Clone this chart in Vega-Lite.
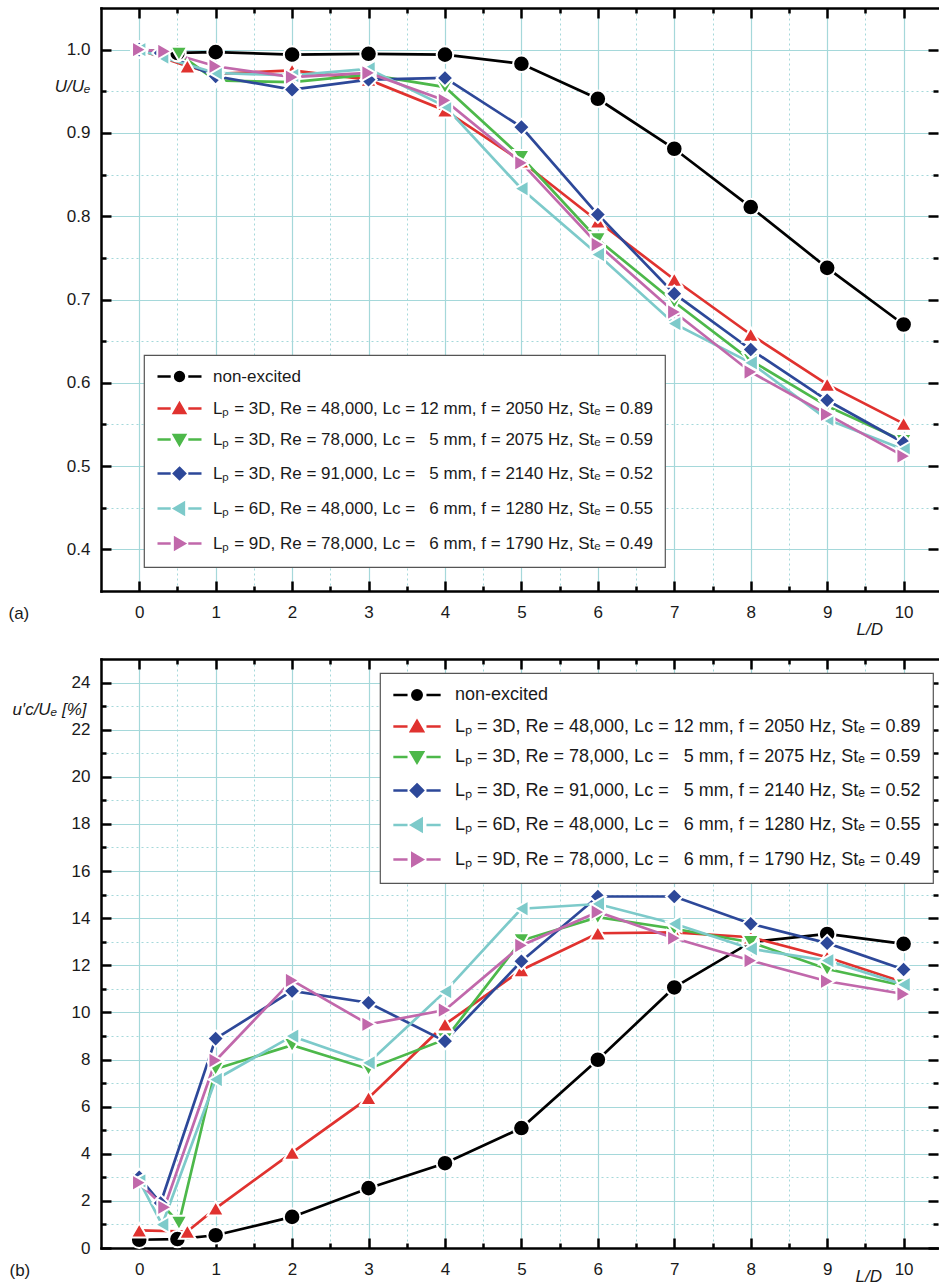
{
  "$schema": "https://vega.github.io/schema/vega-lite/v6.json",
  "autosize": {"type": "pad"},
  "padding": {"left": 8, "top": 6, "right": 0, "bottom": 0},
  "background": "white",
  "bounds": "flush",
  "spacing": 68,
  "config": {
    "view": {"stroke": null},
    "font": "Liberation Sans",
    "axis": {
      "labelFont": "Liberation Sans", "titleFont": "Liberation Sans",
      "labelFontSize": 17, "titleFontSize": 17, "titleFontWeight": "normal",
      "labelColor": "#1a1a1a", "titleColor": "#1a1a1a",
      "tickColor": "#000000", "tickWidth": 2.5,
      "domainColor": "#000000", "domainWidth": 2.5,
      "gridColor": "#a5d8da", "labelFlush": false, "labelOverlap": false
    },
    "legend": {
      "labelFont": "Liberation Sans", "labelColor": "#1a1a1a", "labelLimit": 700,
      "strokeColor": "#555555", "fillColor": "white", "symbolStrokeWidth": 2.5, "strokeWidth": 1.2
    }
  },
  "datasets": {
    "top": [
      {"s":"non-excited","x":0,"y":1.0},{"s":"non-excited","x":0.5,"y":0.996},{"s":"non-excited","x":1,"y":0.997},{"s":"non-excited","x":2,"y":0.994},{"s":"non-excited","x":3,"y":0.995},{"s":"non-excited","x":4,"y":0.994},{"s":"non-excited","x":5,"y":0.983},{"s":"non-excited","x":6,"y":0.941},{"s":"non-excited","x":7,"y":0.881},{"s":"non-excited","x":8,"y":0.811},{"s":"non-excited","x":9,"y":0.738},{"s":"non-excited","x":10,"y":0.670},
      {"s":"L\u209a = 3D, Re = 48,000, Lc = 12 mm, f = 2050 Hz, St\u2091 = 0.89","x":0,"y":1.0},{"s":"L\u209a = 3D, Re = 48,000, Lc = 12 mm, f = 2050 Hz, St\u2091 = 0.89","x":0.63,"y":0.980},{"s":"L\u209a = 3D, Re = 48,000, Lc = 12 mm, f = 2050 Hz, St\u2091 = 0.89","x":1,"y":0.971},{"s":"L\u209a = 3D, Re = 48,000, Lc = 12 mm, f = 2050 Hz, St\u2091 = 0.89","x":2,"y":0.975},{"s":"L\u209a = 3D, Re = 48,000, Lc = 12 mm, f = 2050 Hz, St\u2091 = 0.89","x":3,"y":0.964},{"s":"L\u209a = 3D, Re = 48,000, Lc = 12 mm, f = 2050 Hz, St\u2091 = 0.89","x":4,"y":0.927},{"s":"L\u209a = 3D, Re = 48,000, Lc = 12 mm, f = 2050 Hz, St\u2091 = 0.89","x":5,"y":0.866},{"s":"L\u209a = 3D, Re = 48,000, Lc = 12 mm, f = 2050 Hz, St\u2091 = 0.89","x":6,"y":0.794},{"s":"L\u209a = 3D, Re = 48,000, Lc = 12 mm, f = 2050 Hz, St\u2091 = 0.89","x":7,"y":0.724},{"s":"L\u209a = 3D, Re = 48,000, Lc = 12 mm, f = 2050 Hz, St\u2091 = 0.89","x":8,"y":0.658},{"s":"L\u209a = 3D, Re = 48,000, Lc = 12 mm, f = 2050 Hz, St\u2091 = 0.89","x":9,"y":0.598},{"s":"L\u209a = 3D, Re = 48,000, Lc = 12 mm, f = 2050 Hz, St\u2091 = 0.89","x":10,"y":0.551},
      {"s":"L\u209a = 3D, Re = 78,000, Lc = \u20075 mm, f = 2075 Hz, St\u2091 = 0.59","x":0,"y":1.0},{"s":"L\u209a = 3D, Re = 78,000, Lc = \u20075 mm, f = 2075 Hz, St\u2091 = 0.59","x":0.52,"y":0.995},{"s":"L\u209a = 3D, Re = 78,000, Lc = \u20075 mm, f = 2075 Hz, St\u2091 = 0.59","x":1,"y":0.963},{"s":"L\u209a = 3D, Re = 78,000, Lc = \u20075 mm, f = 2075 Hz, St\u2091 = 0.59","x":2,"y":0.961},{"s":"L\u209a = 3D, Re = 78,000, Lc = \u20075 mm, f = 2075 Hz, St\u2091 = 0.59","x":3,"y":0.970},{"s":"L\u209a = 3D, Re = 78,000, Lc = \u20075 mm, f = 2075 Hz, St\u2091 = 0.59","x":4,"y":0.955},{"s":"L\u209a = 3D, Re = 78,000, Lc = \u20075 mm, f = 2075 Hz, St\u2091 = 0.59","x":5,"y":0.871},{"s":"L\u209a = 3D, Re = 78,000, Lc = \u20075 mm, f = 2075 Hz, St\u2091 = 0.59","x":6,"y":0.772},{"s":"L\u209a = 3D, Re = 78,000, Lc = \u20075 mm, f = 2075 Hz, St\u2091 = 0.59","x":7,"y":0.697},{"s":"L\u209a = 3D, Re = 78,000, Lc = \u20075 mm, f = 2075 Hz, St\u2091 = 0.59","x":8,"y":0.627},{"s":"L\u209a = 3D, Re = 78,000, Lc = \u20075 mm, f = 2075 Hz, St\u2091 = 0.59","x":9,"y":0.572},{"s":"L\u209a = 3D, Re = 78,000, Lc = \u20075 mm, f = 2075 Hz, St\u2091 = 0.59","x":10,"y":0.530},
      {"s":"L\u209a = 3D, Re = 91,000, Lc = \u20075 mm, f = 2140 Hz, St\u2091 = 0.52","x":0,"y":1.0},{"s":"L\u209a = 3D, Re = 91,000, Lc = \u20075 mm, f = 2140 Hz, St\u2091 = 0.52","x":0.28,"y":0.996},{"s":"L\u209a = 3D, Re = 91,000, Lc = \u20075 mm, f = 2140 Hz, St\u2091 = 0.52","x":1,"y":0.968},{"s":"L\u209a = 3D, Re = 91,000, Lc = \u20075 mm, f = 2140 Hz, St\u2091 = 0.52","x":2,"y":0.952},{"s":"L\u209a = 3D, Re = 91,000, Lc = \u20075 mm, f = 2140 Hz, St\u2091 = 0.52","x":3,"y":0.964},{"s":"L\u209a = 3D, Re = 91,000, Lc = \u20075 mm, f = 2140 Hz, St\u2091 = 0.52","x":4,"y":0.966},{"s":"L\u209a = 3D, Re = 91,000, Lc = \u20075 mm, f = 2140 Hz, St\u2091 = 0.52","x":5,"y":0.907},{"s":"L\u209a = 3D, Re = 91,000, Lc = \u20075 mm, f = 2140 Hz, St\u2091 = 0.52","x":6,"y":0.802},{"s":"L\u209a = 3D, Re = 91,000, Lc = \u20075 mm, f = 2140 Hz, St\u2091 = 0.52","x":7,"y":0.707},{"s":"L\u209a = 3D, Re = 91,000, Lc = \u20075 mm, f = 2140 Hz, St\u2091 = 0.52","x":8,"y":0.640},{"s":"L\u209a = 3D, Re = 91,000, Lc = \u20075 mm, f = 2140 Hz, St\u2091 = 0.52","x":9,"y":0.579},{"s":"L\u209a = 3D, Re = 91,000, Lc = \u20075 mm, f = 2140 Hz, St\u2091 = 0.52","x":10,"y":0.528},
      {"s":"L\u209a = 6D, Re = 48,000, Lc = \u20076 mm, f = 1280 Hz, St\u2091 = 0.55","x":0,"y":1.0},{"s":"L\u209a = 6D, Re = 48,000, Lc = \u20076 mm, f = 1280 Hz, St\u2091 = 0.55","x":0.3,"y":0.991},{"s":"L\u209a = 6D, Re = 48,000, Lc = \u20076 mm, f = 1280 Hz, St\u2091 = 0.55","x":1,"y":0.972},{"s":"L\u209a = 6D, Re = 48,000, Lc = \u20076 mm, f = 1280 Hz, St\u2091 = 0.55","x":2,"y":0.969},{"s":"L\u209a = 6D, Re = 48,000, Lc = \u20076 mm, f = 1280 Hz, St\u2091 = 0.55","x":3,"y":0.977},{"s":"L\u209a = 6D, Re = 48,000, Lc = \u20076 mm, f = 1280 Hz, St\u2091 = 0.55","x":4,"y":0.932},{"s":"L\u209a = 6D, Re = 48,000, Lc = \u20076 mm, f = 1280 Hz, St\u2091 = 0.55","x":5,"y":0.833},{"s":"L\u209a = 6D, Re = 48,000, Lc = \u20076 mm, f = 1280 Hz, St\u2091 = 0.55","x":6,"y":0.754},{"s":"L\u209a = 6D, Re = 48,000, Lc = \u20076 mm, f = 1280 Hz, St\u2091 = 0.55","x":7,"y":0.671},{"s":"L\u209a = 6D, Re = 48,000, Lc = \u20076 mm, f = 1280 Hz, St\u2091 = 0.55","x":8,"y":0.624},{"s":"L\u209a = 6D, Re = 48,000, Lc = \u20076 mm, f = 1280 Hz, St\u2091 = 0.55","x":9,"y":0.556},{"s":"L\u209a = 6D, Re = 48,000, Lc = \u20076 mm, f = 1280 Hz, St\u2091 = 0.55","x":10,"y":0.520},
      {"s":"L\u209a = 9D, Re = 78,000, Lc = \u20076 mm, f = 1790 Hz, St\u2091 = 0.49","x":0,"y":1.0},{"s":"L\u209a = 9D, Re = 78,000, Lc = \u20076 mm, f = 1790 Hz, St\u2091 = 0.49","x":0.33,"y":0.998},{"s":"L\u209a = 9D, Re = 78,000, Lc = \u20076 mm, f = 1790 Hz, St\u2091 = 0.49","x":1,"y":0.980},{"s":"L\u209a = 9D, Re = 78,000, Lc = \u20076 mm, f = 1790 Hz, St\u2091 = 0.49","x":2,"y":0.967},{"s":"L\u209a = 9D, Re = 78,000, Lc = \u20076 mm, f = 1790 Hz, St\u2091 = 0.49","x":3,"y":0.972},{"s":"L\u209a = 9D, Re = 78,000, Lc = \u20076 mm, f = 1790 Hz, St\u2091 = 0.49","x":4,"y":0.939},{"s":"L\u209a = 9D, Re = 78,000, Lc = \u20076 mm, f = 1790 Hz, St\u2091 = 0.49","x":5,"y":0.864},{"s":"L\u209a = 9D, Re = 78,000, Lc = \u20076 mm, f = 1790 Hz, St\u2091 = 0.49","x":6,"y":0.766},{"s":"L\u209a = 9D, Re = 78,000, Lc = \u20076 mm, f = 1790 Hz, St\u2091 = 0.49","x":7,"y":0.685},{"s":"L\u209a = 9D, Re = 78,000, Lc = \u20076 mm, f = 1790 Hz, St\u2091 = 0.49","x":8,"y":0.613},{"s":"L\u209a = 9D, Re = 78,000, Lc = \u20076 mm, f = 1790 Hz, St\u2091 = 0.49","x":9,"y":0.562},{"s":"L\u209a = 9D, Re = 78,000, Lc = \u20076 mm, f = 1790 Hz, St\u2091 = 0.49","x":10,"y":0.512}
    ],
    "bottom": [
      {"s":"non-excited","x":0,"y":0.35},{"s":"non-excited","x":0.5,"y":0.38},{"s":"non-excited","x":1,"y":0.54},{"s":"non-excited","x":2,"y":1.32},{"s":"non-excited","x":3,"y":2.54},{"s":"non-excited","x":4,"y":3.6},{"s":"non-excited","x":5,"y":5.09},{"s":"non-excited","x":6,"y":7.99},{"s":"non-excited","x":7,"y":11.06},{"s":"non-excited","x":8,"y":12.98},{"s":"non-excited","x":9,"y":13.33},{"s":"non-excited","x":10,"y":12.91},
      {"s":"L\u209a = 3D, Re = 48,000, Lc = 12 mm, f = 2050 Hz, St\u2091 = 0.89","x":0,"y":0.75},{"s":"L\u209a = 3D, Re = 48,000, Lc = 12 mm, f = 2050 Hz, St\u2091 = 0.89","x":0.63,"y":0.7},{"s":"L\u209a = 3D, Re = 48,000, Lc = 12 mm, f = 2050 Hz, St\u2091 = 0.89","x":1,"y":1.68},{"s":"L\u209a = 3D, Re = 48,000, Lc = 12 mm, f = 2050 Hz, St\u2091 = 0.89","x":2,"y":4.05},{"s":"L\u209a = 3D, Re = 48,000, Lc = 12 mm, f = 2050 Hz, St\u2091 = 0.89","x":3,"y":6.37},{"s":"L\u209a = 3D, Re = 48,000, Lc = 12 mm, f = 2050 Hz, St\u2091 = 0.89","x":4,"y":9.49},{"s":"L\u209a = 3D, Re = 48,000, Lc = 12 mm, f = 2050 Hz, St\u2091 = 0.89","x":5,"y":11.8},{"s":"L\u209a = 3D, Re = 48,000, Lc = 12 mm, f = 2050 Hz, St\u2091 = 0.89","x":6,"y":13.36},{"s":"L\u209a = 3D, Re = 48,000, Lc = 12 mm, f = 2050 Hz, St\u2091 = 0.89","x":7,"y":13.4},{"s":"L\u209a = 3D, Re = 48,000, Lc = 12 mm, f = 2050 Hz, St\u2091 = 0.89","x":8,"y":13.19},{"s":"L\u209a = 3D, Re = 48,000, Lc = 12 mm, f = 2050 Hz, St\u2091 = 0.89","x":9,"y":12.34},{"s":"L\u209a = 3D, Re = 48,000, Lc = 12 mm, f = 2050 Hz, St\u2091 = 0.89","x":10,"y":11.28},
      {"s":"L\u209a = 3D, Re = 78,000, Lc = \u20075 mm, f = 2075 Hz, St\u2091 = 0.59","x":0,"y":2.9},{"s":"L\u209a = 3D, Re = 78,000, Lc = \u20075 mm, f = 2075 Hz, St\u2091 = 0.59","x":0.52,"y":1.06},{"s":"L\u209a = 3D, Re = 78,000, Lc = \u20075 mm, f = 2075 Hz, St\u2091 = 0.59","x":1,"y":7.6},{"s":"L\u209a = 3D, Re = 78,000, Lc = \u20075 mm, f = 2075 Hz, St\u2091 = 0.59","x":2,"y":8.61},{"s":"L\u209a = 3D, Re = 78,000, Lc = \u20075 mm, f = 2075 Hz, St\u2091 = 0.59","x":3,"y":7.6},{"s":"L\u209a = 3D, Re = 78,000, Lc = \u20075 mm, f = 2075 Hz, St\u2091 = 0.59","x":4,"y":8.85},{"s":"L\u209a = 3D, Re = 78,000, Lc = \u20075 mm, f = 2075 Hz, St\u2091 = 0.59","x":5,"y":13.05},{"s":"L\u209a = 3D, Re = 78,000, Lc = \u20075 mm, f = 2075 Hz, St\u2091 = 0.59","x":6,"y":14.04},{"s":"L\u209a = 3D, Re = 78,000, Lc = \u20075 mm, f = 2075 Hz, St\u2091 = 0.59","x":7,"y":13.55},{"s":"L\u209a = 3D, Re = 78,000, Lc = \u20075 mm, f = 2075 Hz, St\u2091 = 0.59","x":8,"y":12.98},{"s":"L\u209a = 3D, Re = 78,000, Lc = \u20075 mm, f = 2075 Hz, St\u2091 = 0.59","x":9,"y":11.84},{"s":"L\u209a = 3D, Re = 78,000, Lc = \u20075 mm, f = 2075 Hz, St\u2091 = 0.59","x":10,"y":11.13},
      {"s":"L\u209a = 3D, Re = 91,000, Lc = \u20075 mm, f = 2140 Hz, St\u2091 = 0.52","x":0,"y":3.0},{"s":"L\u209a = 3D, Re = 91,000, Lc = \u20075 mm, f = 2140 Hz, St\u2091 = 0.52","x":0.28,"y":1.91},{"s":"L\u209a = 3D, Re = 91,000, Lc = \u20075 mm, f = 2140 Hz, St\u2091 = 0.52","x":1,"y":8.89},{"s":"L\u209a = 3D, Re = 91,000, Lc = \u20075 mm, f = 2140 Hz, St\u2091 = 0.52","x":2,"y":10.91},{"s":"L\u209a = 3D, Re = 91,000, Lc = \u20075 mm, f = 2140 Hz, St\u2091 = 0.52","x":3,"y":10.41},{"s":"L\u209a = 3D, Re = 91,000, Lc = \u20075 mm, f = 2140 Hz, St\u2091 = 0.52","x":4,"y":8.78},{"s":"L\u209a = 3D, Re = 91,000, Lc = \u20075 mm, f = 2140 Hz, St\u2091 = 0.52","x":5,"y":12.17},{"s":"L\u209a = 3D, Re = 91,000, Lc = \u20075 mm, f = 2140 Hz, St\u2091 = 0.52","x":6,"y":14.92},{"s":"L\u209a = 3D, Re = 91,000, Lc = \u20075 mm, f = 2140 Hz, St\u2091 = 0.52","x":7,"y":14.92},{"s":"L\u209a = 3D, Re = 91,000, Lc = \u20075 mm, f = 2140 Hz, St\u2091 = 0.52","x":8,"y":13.76},{"s":"L\u209a = 3D, Re = 91,000, Lc = \u20075 mm, f = 2140 Hz, St\u2091 = 0.52","x":9,"y":12.94},{"s":"L\u209a = 3D, Re = 91,000, Lc = \u20075 mm, f = 2140 Hz, St\u2091 = 0.52","x":10,"y":11.82},
      {"s":"L\u209a = 6D, Re = 48,000, Lc = \u20076 mm, f = 1280 Hz, St\u2091 = 0.55","x":0,"y":2.85},{"s":"L\u209a = 6D, Re = 48,000, Lc = \u20076 mm, f = 1280 Hz, St\u2091 = 0.55","x":0.3,"y":0.99},{"s":"L\u209a = 6D, Re = 48,000, Lc = \u20076 mm, f = 1280 Hz, St\u2091 = 0.55","x":1,"y":7.15},{"s":"L\u209a = 6D, Re = 48,000, Lc = \u20076 mm, f = 1280 Hz, St\u2091 = 0.55","x":2,"y":8.99},{"s":"L\u209a = 6D, Re = 48,000, Lc = \u20076 mm, f = 1280 Hz, St\u2091 = 0.55","x":3,"y":7.86},{"s":"L\u209a = 6D, Re = 48,000, Lc = \u20076 mm, f = 1280 Hz, St\u2091 = 0.55","x":4,"y":10.88},{"s":"L\u209a = 6D, Re = 48,000, Lc = \u20076 mm, f = 1280 Hz, St\u2091 = 0.55","x":5,"y":14.4},{"s":"L\u209a = 6D, Re = 48,000, Lc = \u20076 mm, f = 1280 Hz, St\u2091 = 0.55","x":6,"y":14.6},{"s":"L\u209a = 6D, Re = 48,000, Lc = \u20076 mm, f = 1280 Hz, St\u2091 = 0.55","x":7,"y":13.76},{"s":"L\u209a = 6D, Re = 48,000, Lc = \u20076 mm, f = 1280 Hz, St\u2091 = 0.55","x":8,"y":12.7},{"s":"L\u209a = 6D, Re = 48,000, Lc = \u20076 mm, f = 1280 Hz, St\u2091 = 0.55","x":9,"y":12.2},{"s":"L\u209a = 6D, Re = 48,000, Lc = \u20076 mm, f = 1280 Hz, St\u2091 = 0.55","x":10,"y":11.18},
      {"s":"L\u209a = 9D, Re = 78,000, Lc = \u20076 mm, f = 1790 Hz, St\u2091 = 0.49","x":0,"y":2.77},{"s":"L\u209a = 9D, Re = 78,000, Lc = \u20076 mm, f = 1790 Hz, St\u2091 = 0.49","x":0.33,"y":1.73},{"s":"L\u209a = 9D, Re = 78,000, Lc = \u20076 mm, f = 1790 Hz, St\u2091 = 0.49","x":1,"y":7.96},{"s":"L\u209a = 9D, Re = 78,000, Lc = \u20076 mm, f = 1790 Hz, St\u2091 = 0.49","x":2,"y":11.36},{"s":"L\u209a = 9D, Re = 78,000, Lc = \u20076 mm, f = 1790 Hz, St\u2091 = 0.49","x":3,"y":9.49},{"s":"L\u209a = 9D, Re = 78,000, Lc = \u20076 mm, f = 1790 Hz, St\u2091 = 0.49","x":4,"y":10.1},{"s":"L\u209a = 9D, Re = 78,000, Lc = \u20076 mm, f = 1790 Hz, St\u2091 = 0.49","x":5,"y":12.84},{"s":"L\u209a = 9D, Re = 78,000, Lc = \u20076 mm, f = 1790 Hz, St\u2091 = 0.49","x":6,"y":14.26},{"s":"L\u209a = 9D, Re = 78,000, Lc = \u20076 mm, f = 1790 Hz, St\u2091 = 0.49","x":7,"y":13.15},{"s":"L\u209a = 9D, Re = 78,000, Lc = \u20076 mm, f = 1790 Hz, St\u2091 = 0.49","x":8,"y":12.2},{"s":"L\u209a = 9D, Re = 78,000, Lc = \u20076 mm, f = 1790 Hz, St\u2091 = 0.49","x":9,"y":11.32},{"s":"L\u209a = 9D, Re = 78,000, Lc = \u20076 mm, f = 1790 Hz, St\u2091 = 0.49","x":10,"y":10.78}
    ]
  },
  "vconcat": [
    {
      "width": 837, "height": 583,
      "data": {"name": "top"},
      "layer": [
        {
          "mark": {"type": "line", "strokeWidth": 2.7},
          "encoding": {
            "x": {"field": "x", "type": "quantitative", "scale": {"domain": [-0.5, 10.45], "nice": false, "zero": false},
              "axis": {"orient": "bottom", "values": [0,1,2,3,4,5,6,7,8,9,10], "format": "d", "grid": true, "gridWidth": 1.2, "ticks": true, "tickSize": -10, "domain": true, "domainCap": "square", "labelPadding": 23.5, "title": "L/D", "titleFontStyle": "italic", "titleX": 755, "titleY": 43, "titleAlign": "left", "titleBaseline": "alphabetic"}},
            "y": {"field": "y", "type": "quantitative", "scale": {"domain": [0.35, 1.05], "nice": false, "zero": false},
              "axis": {"orient": "left", "values": [0.4,0.5,0.6,0.7,0.8,0.9,1.0], "format": ".1f", "grid": true, "gridWidth": 1.2, "ticks": true, "tickSize": -10, "domain": true, "domainCap": "square", "labelPadding": 21, "title": "U/U\u2091", "titleFontStyle": "italic", "titleAngle": 0, "titleAlign": "right", "titleBaseline": "alphabetic", "titleX": -11, "titleY": 83}},
            "color": {"field": "s", "type": "nominal", "legend": null,
              "scale": {"domain": ["non-excited","L\u209a = 3D, Re = 48,000, Lc = 12 mm, f = 2050 Hz, St\u2091 = 0.89","L\u209a = 3D, Re = 78,000, Lc = \u20075 mm, f = 2075 Hz, St\u2091 = 0.59","L\u209a = 3D, Re = 91,000, Lc = \u20075 mm, f = 2140 Hz, St\u2091 = 0.52","L\u209a = 6D, Re = 48,000, Lc = \u20076 mm, f = 1280 Hz, St\u2091 = 0.55","L\u209a = 9D, Re = 78,000, Lc = \u20076 mm, f = 1790 Hz, St\u2091 = 0.49"],
                "range": ["#000000","#e0322f","#4db84a","#2d4899","#7dcaca","#c168ab"]}}
          }
        },
        {
          "mark": {"type": "point", "filled": true, "opacity": 1, "size": 275, "stroke": "white", "strokeWidth": 2},
          "encoding": {
            "x": {"field": "x", "type": "quantitative", "scale": {"domain": [-0.5, 10.45], "nice": false, "zero": false},
              "axis": {"orient": "bottom", "values": [0.5,1.5,2.5,3.5,4.5,5.5,6.5,7.5,8.5,9.5], "grid": true, "gridDash": [2,3], "gridWidth": 1, "ticks": true, "tickSize": -5, "domain": false, "labels": false, "title": "(a)", "titleX": -93, "titleY": 27, "titleAlign": "left", "titleBaseline": "alphabetic"}},
            "y": {"field": "y", "type": "quantitative", "scale": {"domain": [0.35, 1.05], "nice": false, "zero": false},
              "axis": {"orient": "left", "values": [0.45,0.55,0.65,0.75,0.85,0.95], "grid": true, "gridDash": [2,3], "gridWidth": 1, "ticks": true, "tickSize": -5, "domain": false, "labels": false, "title": null}},
            "color": {"field": "s", "type": "nominal", "legend": null},
            "shape": {"field": "s", "type": "nominal", "legend": null,
              "scale": {"domain": ["non-excited","L\u209a = 3D, Re = 48,000, Lc = 12 mm, f = 2050 Hz, St\u2091 = 0.89","L\u209a = 3D, Re = 78,000, Lc = \u20075 mm, f = 2075 Hz, St\u2091 = 0.59","L\u209a = 3D, Re = 91,000, Lc = \u20075 mm, f = 2140 Hz, St\u2091 = 0.52","L\u209a = 6D, Re = 48,000, Lc = \u20076 mm, f = 1280 Hz, St\u2091 = 0.55","L\u209a = 9D, Re = 78,000, Lc = \u20076 mm, f = 1790 Hz, St\u2091 = 0.49"],
                "range": ["circle","triangle-up","triangle-down","diamond","triangle-left","triangle-right"]}}
          }
        },
        {
          "transform": [{"filter": "false"}],
          "mark": {"type": "point", "filled": true, "opacity": 1, "strokeWidth": 2.5},
          "encoding": {
            "x": {"field": "x", "type": "quantitative", "scale": {"domain": [-0.5, 10.45], "nice": false, "zero": false},
              "axis": {"orient": "top", "values": [0,1,2,3,4,5,6,7,8,9,10], "grid": false, "ticks": true, "tickSize": -10, "domain": true, "domainCap": "square", "labels": false, "title": null}},
            "y": {"field": "y", "type": "quantitative", "scale": {"domain": [0.35, 1.05], "nice": false, "zero": false},
              "axis": {"orient": "right", "values": [0.4,0.5,0.6,0.7,0.8,0.9,1.0], "grid": false, "ticks": true, "tickSize": -10, "domain": false, "labels": false, "title": null}},
            "fill": {"field": "s", "type": "nominal",
              "scale": {"domain": ["non-excited","L\u209a = 3D, Re = 48,000, Lc = 12 mm, f = 2050 Hz, St\u2091 = 0.89","L\u209a = 3D, Re = 78,000, Lc = \u20075 mm, f = 2075 Hz, St\u2091 = 0.59","L\u209a = 3D, Re = 91,000, Lc = \u20075 mm, f = 2140 Hz, St\u2091 = 0.52","L\u209a = 6D, Re = 48,000, Lc = \u20076 mm, f = 1280 Hz, St\u2091 = 0.55","L\u209a = 9D, Re = 78,000, Lc = \u20076 mm, f = 1790 Hz, St\u2091 = 0.49"],
                "range": ["#000000","#e0322f","#4db84a","#2d4899","#7dcaca","#c168ab"]},
              "legend": {"orient": "none", "legendX": 43, "legendY": 347, "title": null, "labelFontSize": 17, "symbolSize": 256, "symbolOffset": 14, "labelOffset": 24, "padding": 12, "rowPadding": 12}},
            "stroke": {"field": "s", "type": "nominal",
              "scale": {"domain": ["non-excited","L\u209a = 3D, Re = 48,000, Lc = 12 mm, f = 2050 Hz, St\u2091 = 0.89","L\u209a = 3D, Re = 78,000, Lc = \u20075 mm, f = 2075 Hz, St\u2091 = 0.59","L\u209a = 3D, Re = 91,000, Lc = \u20075 mm, f = 2140 Hz, St\u2091 = 0.52","L\u209a = 6D, Re = 48,000, Lc = \u20076 mm, f = 1280 Hz, St\u2091 = 0.55","L\u209a = 9D, Re = 78,000, Lc = \u20076 mm, f = 1790 Hz, St\u2091 = 0.49"],
                "range": ["#000000","#e0322f","#4db84a","#2d4899","#7dcaca","#c168ab"]},
              "legend": {"orient": "none", "legendX": 43, "legendY": 347, "title": null, "labelFontSize": 17, "symbolSize": 256, "symbolOffset": 14, "labelOffset": 24, "padding": 12, "rowPadding": 12}},
            "shape": {"field": "s", "type": "nominal",
              "scale": {"domain": ["non-excited","L\u209a = 3D, Re = 48,000, Lc = 12 mm, f = 2050 Hz, St\u2091 = 0.89","L\u209a = 3D, Re = 78,000, Lc = \u20075 mm, f = 2075 Hz, St\u2091 = 0.59","L\u209a = 3D, Re = 91,000, Lc = \u20075 mm, f = 2140 Hz, St\u2091 = 0.52","L\u209a = 6D, Re = 48,000, Lc = \u20076 mm, f = 1280 Hz, St\u2091 = 0.55","L\u209a = 9D, Re = 78,000, Lc = \u20076 mm, f = 1790 Hz, St\u2091 = 0.49"],
                "range": [
                  "M-2.75,0H-1.1M1.1,0H2.75M0.55,0A0.55,0.55,0,1,1,-0.55,0A0.55,0.55,0,1,1,0.55,0Z",
                  "M-2.75,0H-1.1M1.1,0H2.75M0,-0.65L0.7,0.55L-0.7,0.55Z",
                  "M-2.75,0H-1.1M1.1,0H2.75M0,0.65L0.7,-0.55L-0.7,-0.55Z",
                  "M-2.75,0H-1.1M1.1,0H2.75M0,-0.7L0.7,0L0,0.7L-0.7,0Z",
                  "M-2.75,0H-1.1M1.1,0H2.75M-0.65,0L0.55,-0.7L0.55,0.7Z",
                  "M-2.75,0H-1.1M1.1,0H2.75M0.65,0L-0.55,-0.7L-0.55,0.7Z"
                ]},
              "legend": {"orient": "none", "legendX": 43, "legendY": 347, "title": null, "labelFontSize": 17, "symbolSize": 256, "symbolOffset": 14, "labelOffset": 24, "padding": 12, "rowPadding": 12}}
          }
        },
        {
          "transform": [{"filter": "false"}],
          "mark": {"type": "point", "opacity": 1},
          "encoding": {
            "x": {"field": "x", "type": "quantitative", "scale": {"domain": [-0.5, 10.45], "nice": false, "zero": false},
              "axis": {"orient": "top", "values": [0.5,1.5,2.5,3.5,4.5,5.5,6.5,7.5,8.5,9.5], "grid": false, "ticks": true, "tickSize": -5, "domain": false, "labels": false, "title": null}},
            "y": {"field": "y", "type": "quantitative", "scale": {"domain": [0.35, 1.05], "nice": false, "zero": false},
              "axis": {"orient": "right", "values": [0.45,0.55,0.65,0.75,0.85,0.95], "grid": false, "ticks": true, "tickSize": -5, "domain": false, "labels": false, "title": null}}
          }
        }
      ],
      "resolve": {"axis": {"x": "independent", "y": "independent"}, "scale": {"shape": "independent", "fill": "independent", "stroke": "independent"}}
    },
    {
      "width": 837, "height": 589,
      "data": {"name": "bottom"},
      "layer": [
        {
          "mark": {"type": "line", "strokeWidth": 2.7},
          "encoding": {
            "x": {"field": "x", "type": "quantitative", "scale": {"domain": [-0.5, 10.45], "nice": false, "zero": false},
              "axis": {"orient": "bottom", "values": [0,1,2,3,4,5,6,7,8,9,10], "format": "d", "grid": true, "gridWidth": 1.2, "ticks": true, "tickSize": -10, "domain": true, "domainCap": "square", "labelPadding": 23.5, "title": "L/D", "titleFontStyle": "italic", "titleX": 754, "titleY": 33, "titleAlign": "left", "titleBaseline": "alphabetic"}},
            "y": {"field": "y", "type": "quantitative", "scale": {"domain": [0, 25], "nice": false, "zero": false},
              "axis": {"orient": "left", "values": [0,2,4,6,8,10,12,14,16,18,20,22,24], "format": "d", "grid": true, "gridWidth": 1.2, "gridOpacity": {"condition": {"test": "datum.value === 0", "value": 0}, "value": 1}, "ticks": true, "tickSize": -10, "domain": true, "domainCap": "square", "labelPadding": 21, "title": "u\u2032c/U\u2091 [%]", "titleFontStyle": "italic", "titleAngle": 0, "titleAlign": "right", "titleBaseline": "alphabetic", "titleX": -15, "titleY": 55}},
            "color": {"field": "s", "type": "nominal", "legend": null,
              "scale": {"domain": ["non-excited","L\u209a = 3D, Re = 48,000, Lc = 12 mm, f = 2050 Hz, St\u2091 = 0.89","L\u209a = 3D, Re = 78,000, Lc = \u20075 mm, f = 2075 Hz, St\u2091 = 0.59","L\u209a = 3D, Re = 91,000, Lc = \u20075 mm, f = 2140 Hz, St\u2091 = 0.52","L\u209a = 6D, Re = 48,000, Lc = \u20076 mm, f = 1280 Hz, St\u2091 = 0.55","L\u209a = 9D, Re = 78,000, Lc = \u20076 mm, f = 1790 Hz, St\u2091 = 0.49"],
                "range": ["#000000","#e0322f","#4db84a","#2d4899","#7dcaca","#c168ab"]}}
          }
        },
        {
          "mark": {"type": "point", "filled": true, "opacity": 1, "size": 275, "stroke": "white", "strokeWidth": 2},
          "encoding": {
            "x": {"field": "x", "type": "quantitative", "scale": {"domain": [-0.5, 10.45], "nice": false, "zero": false},
              "axis": {"orient": "bottom", "values": [0.5,1.5,2.5,3.5,4.5,5.5,6.5,7.5,8.5,9.5], "grid": true, "gridDash": [2,3], "gridWidth": 1, "ticks": true, "tickSize": -5, "domain": false, "labels": false, "title": "(b)", "titleX": -92, "titleY": 27, "titleAlign": "left", "titleBaseline": "alphabetic"}},
            "y": {"field": "y", "type": "quantitative", "scale": {"domain": [0, 25], "nice": false, "zero": false},
              "axis": {"orient": "left", "values": [1,3,5,7,9,11,13,15,17,19,21,23], "grid": true, "gridDash": [2,3], "gridWidth": 1, "ticks": true, "tickSize": -5, "domain": false, "labels": false, "title": null}},
            "color": {"field": "s", "type": "nominal", "legend": null},
            "shape": {"field": "s", "type": "nominal", "legend": null,
              "scale": {"domain": ["non-excited","L\u209a = 3D, Re = 48,000, Lc = 12 mm, f = 2050 Hz, St\u2091 = 0.89","L\u209a = 3D, Re = 78,000, Lc = \u20075 mm, f = 2075 Hz, St\u2091 = 0.59","L\u209a = 3D, Re = 91,000, Lc = \u20075 mm, f = 2140 Hz, St\u2091 = 0.52","L\u209a = 6D, Re = 48,000, Lc = \u20076 mm, f = 1280 Hz, St\u2091 = 0.55","L\u209a = 9D, Re = 78,000, Lc = \u20076 mm, f = 1790 Hz, St\u2091 = 0.49"],
                "range": ["circle","triangle-up","triangle-down","diamond","triangle-left","triangle-right"]}}
          }
        },
        {
          "transform": [{"filter": "false"}],
          "mark": {"type": "point", "filled": true, "opacity": 1, "strokeWidth": 2.5},
          "encoding": {
            "x": {"field": "x", "type": "quantitative", "scale": {"domain": [-0.5, 10.45], "nice": false, "zero": false},
              "axis": {"orient": "top", "values": [0,1,2,3,4,5,6,7,8,9,10], "grid": false, "ticks": true, "tickSize": -10, "domain": true, "domainCap": "square", "labels": false, "title": null}},
            "y": {"field": "y", "type": "quantitative", "scale": {"domain": [0, 25], "nice": false, "zero": false},
              "axis": {"orient": "right", "values": [0,2,4,6,8,10,12,14,16,18,20,22,24], "grid": false, "ticks": true, "tickSize": -10, "domain": false, "labels": false, "title": null}},
            "fill": {"field": "s", "type": "nominal",
              "scale": {"domain": ["non-excited","L\u209a = 3D, Re = 48,000, Lc = 12 mm, f = 2050 Hz, St\u2091 = 0.89","L\u209a = 3D, Re = 78,000, Lc = \u20075 mm, f = 2075 Hz, St\u2091 = 0.59","L\u209a = 3D, Re = 91,000, Lc = \u20075 mm, f = 2140 Hz, St\u2091 = 0.52","L\u209a = 6D, Re = 48,000, Lc = \u20076 mm, f = 1280 Hz, St\u2091 = 0.55","L\u209a = 9D, Re = 78,000, Lc = \u20076 mm, f = 1790 Hz, St\u2091 = 0.49"],
                "range": ["#000000","#e0322f","#4db84a","#2d4899","#7dcaca","#c168ab"]},
              "legend": {"orient": "none", "legendX": 279, "legendY": 14, "title": null, "labelFontSize": 18, "symbolSize": 296, "symbolOffset": 15, "labelOffset": 28, "padding": 12, "rowPadding": 10.5}},
            "stroke": {"field": "s", "type": "nominal",
              "scale": {"domain": ["non-excited","L\u209a = 3D, Re = 48,000, Lc = 12 mm, f = 2050 Hz, St\u2091 = 0.89","L\u209a = 3D, Re = 78,000, Lc = \u20075 mm, f = 2075 Hz, St\u2091 = 0.59","L\u209a = 3D, Re = 91,000, Lc = \u20075 mm, f = 2140 Hz, St\u2091 = 0.52","L\u209a = 6D, Re = 48,000, Lc = \u20076 mm, f = 1280 Hz, St\u2091 = 0.55","L\u209a = 9D, Re = 78,000, Lc = \u20076 mm, f = 1790 Hz, St\u2091 = 0.49"],
                "range": ["#000000","#e0322f","#4db84a","#2d4899","#7dcaca","#c168ab"]},
              "legend": {"orient": "none", "legendX": 279, "legendY": 14, "title": null, "labelFontSize": 18, "symbolSize": 296, "symbolOffset": 15, "labelOffset": 28, "padding": 12, "rowPadding": 10.5}},
            "shape": {"field": "s", "type": "nominal",
              "scale": {"domain": ["non-excited","L\u209a = 3D, Re = 48,000, Lc = 12 mm, f = 2050 Hz, St\u2091 = 0.89","L\u209a = 3D, Re = 78,000, Lc = \u20075 mm, f = 2075 Hz, St\u2091 = 0.59","L\u209a = 3D, Re = 91,000, Lc = \u20075 mm, f = 2140 Hz, St\u2091 = 0.52","L\u209a = 6D, Re = 48,000, Lc = \u20076 mm, f = 1280 Hz, St\u2091 = 0.55","L\u209a = 9D, Re = 78,000, Lc = \u20076 mm, f = 1790 Hz, St\u2091 = 0.49"],
                "range": [
                  "M-2.75,0H-1.1M1.1,0H2.75M0.55,0A0.55,0.55,0,1,1,-0.55,0A0.55,0.55,0,1,1,0.55,0Z",
                  "M-2.75,0H-1.1M1.1,0H2.75M0,-0.65L0.7,0.55L-0.7,0.55Z",
                  "M-2.75,0H-1.1M1.1,0H2.75M0,0.65L0.7,-0.55L-0.7,-0.55Z",
                  "M-2.75,0H-1.1M1.1,0H2.75M0,-0.7L0.7,0L0,0.7L-0.7,0Z",
                  "M-2.75,0H-1.1M1.1,0H2.75M-0.65,0L0.55,-0.7L0.55,0.7Z",
                  "M-2.75,0H-1.1M1.1,0H2.75M0.65,0L-0.55,-0.7L-0.55,0.7Z"
                ]},
              "legend": {"orient": "none", "legendX": 279, "legendY": 14, "title": null, "labelFontSize": 18, "symbolSize": 296, "symbolOffset": 15, "labelOffset": 28, "padding": 12, "rowPadding": 10.5}}
          }
        },
        {
          "transform": [{"filter": "false"}],
          "mark": {"type": "point", "opacity": 1},
          "encoding": {
            "x": {"field": "x", "type": "quantitative", "scale": {"domain": [-0.5, 10.45], "nice": false, "zero": false},
              "axis": {"orient": "top", "values": [0.5,1.5,2.5,3.5,4.5,5.5,6.5,7.5,8.5,9.5], "grid": false, "ticks": true, "tickSize": -5, "domain": false, "labels": false, "title": null}},
            "y": {"field": "y", "type": "quantitative", "scale": {"domain": [0, 25], "nice": false, "zero": false},
              "axis": {"orient": "right", "values": [1,3,5,7,9,11,13,15,17,19,21,23], "grid": false, "ticks": true, "tickSize": -5, "domain": false, "labels": false, "title": null}}
          }
        }
      ],
      "resolve": {"axis": {"x": "independent", "y": "independent"}, "scale": {"shape": "independent", "fill": "independent", "stroke": "independent"}}
    }
  ]
}
